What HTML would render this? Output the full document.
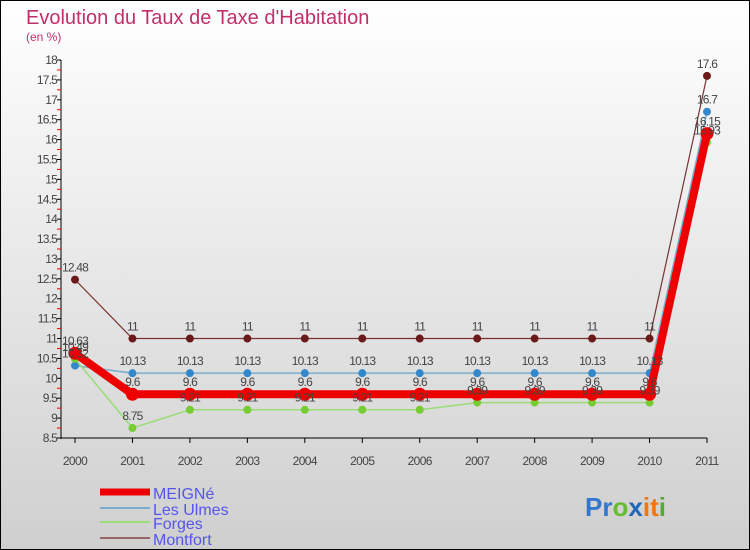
<!DOCTYPE html>
<html><head><meta charset="utf-8"><style>
body{margin:0}
svg{display:block;font-family:"Liberation Sans","DejaVu Sans",sans-serif}
</style></head><body>
<svg id="chart" width="750" height="550" viewBox="0 0 750 550" xmlns="http://www.w3.org/2000/svg">
<defs><linearGradient id="bg" x1="0" y1="0" x2="0" y2="1"><stop offset="0" stop-color="#ffffff"/><stop offset="1" stop-color="#cfcfcf"/></linearGradient></defs>
<rect x="0.5" y="0.5" width="749" height="549" fill="url(#bg)" stroke="#000"/>
<text x="26" y="24" font-size="20" fill="#c0306a">Evolution du Taux de Taxe d'Habitation</text>
<text x="26" y="41" font-size="12" fill="#c0306a">(en %)</text>
<g id="axes"></g>
<g id="series"></g>
<g id="legend">
<line x1="100" y1="492" x2="150" y2="492" stroke="#ee0000" stroke-width="7"/>
<text x="153" y="499" font-size="16" fill="#5555ee">MEIGNé</text>
<line x1="100" y1="508" x2="150" y2="508" stroke="#7aaccc" stroke-width="2"/>
<text x="153" y="515" font-size="16" fill="#5555ee">Les Ulmes</text>
<line x1="100" y1="522" x2="150" y2="522" stroke="#99dd77" stroke-width="2"/>
<text x="153" y="529" font-size="16" fill="#5555ee">Forges</text>
<line x1="100" y1="538" x2="150" y2="538" stroke="#996666" stroke-width="2"/>
<text x="153" y="545" font-size="16" fill="#5555ee">Montfort</text>
</g>
<text x="585" y="516" font-size="26" font-weight="bold"><tspan fill="#3377cc">Pr</tspan><tspan fill="#66bb33">o</tspan><tspan fill="#2266bb">x</tspan><tspan fill="#ee7711">i</tspan><tspan fill="#ee7711">t</tspan><tspan fill="#55aa33">i</tspan></text>
</svg>
<script>
const years=["2000","2001","2002","2003","2004","2005","2006","2007","2008","2009","2010","2011"];
const yTicks=[8.5,9,9.5,10,10.5,11,11.5,12,12.5,13,13.5,14,14.5,15,15.5,16,16.5,17,17.5,18];
const meigne=[10.63,9.6,9.6,9.6,9.6,9.6,9.6,9.6,9.6,9.6,9.6,16.15];
const lesUlmes=[10.32,10.13,10.13,10.13,10.13,10.13,10.13,10.13,10.13,10.13,10.13,16.7];
const forges=[10.49,8.75,9.21,9.21,9.21,9.21,9.21,9.39,9.39,9.39,9.39,15.93];
const montfort=[12.48,11,11,11,11,11,11,11,11,11,11,17.6];
const NS="http://www.w3.org/2000/svg";
const X=i=>75+i*(707-75)/11;
const Y=v=>438-(v-8.5)*(378/9.5);
function mk(t,a,p){const e=document.createElementNS(NS,t);for(const k in a)e.setAttribute(k,a[k]);p.appendChild(e);return e;}
const ax=document.getElementById('axes');
let l=mk('line',{x1:61,y1:Y(18),x2:61,y2:Y(8.5)+1,stroke:'#000'},ax);


l=mk('line',{x1:61,y1:438,x2:X(11),y2:438,stroke:'#000'},ax);


yTicks.forEach((v,i)=>{
  mk('line',{x1:57,y1:Y(v),x2:61,y2:Y(v),stroke:'#000'},ax);
  if(i<yTicks.length-1) mk('line',{x1:57,y1:Y(v+0.25),x2:61,y2:Y(v+0.25),stroke:'#e00'},ax);
  const t=mk('text',{x:57,y:Y(v)+4,'font-size':12,fill:'#444','text-anchor':'end','letter-spacing':'-0.8'},ax);
  
  
  t.textContent=String(v);
});
years.forEach((y,i)=>{
  mk('line',{x1:X(i),y1:438,x2:X(i),y2:443,stroke:'#000'},ax);
  const t=mk('text',{x:X(i),y:465,'font-size':12,fill:'#444','text-anchor':'middle','letter-spacing':'-0.6'},ax);
  
  
  t.textContent=y;
});
const sg=document.getElementById('series');
function draw(name,data,color,w,r,dot){
  const g=mk('g',{},sg);
  
  
  mk('polyline',{points:data.map((v,i)=>X(i)+','+Y(v)).join(' '),fill:'none',stroke:color,'stroke-width':w,'stroke-linejoin':'round'},g);
  data.forEach((v,i)=>{
    const c=mk('circle',{cx:X(i),cy:Y(v),r:r,fill:dot},g);
    
    
  });
  return g;
}
draw('montfort',montfort,'#773333',1.2,4,'#6b1a1a');
draw('les-ulmes',lesUlmes,'#7aaccc',1.5,4,'#3388cc');
draw('forges',forges,'#99dd77',1.5,4,'#77cc33');
draw('meigne',meigne,'#ee0000',8,6.5,'#ee0000');
[montfort,lesUlmes,forges,meigne].forEach(d=>{
  d.forEach((v,i)=>{
    const t=mk('text',{x:X(i),y:Y(v)-8,'font-size':12,fill:'#444','text-anchor':'middle','letter-spacing':'-0.8'},sg);
    
    
    t.textContent=String(v);
  });
});
</script>
</body></html>
